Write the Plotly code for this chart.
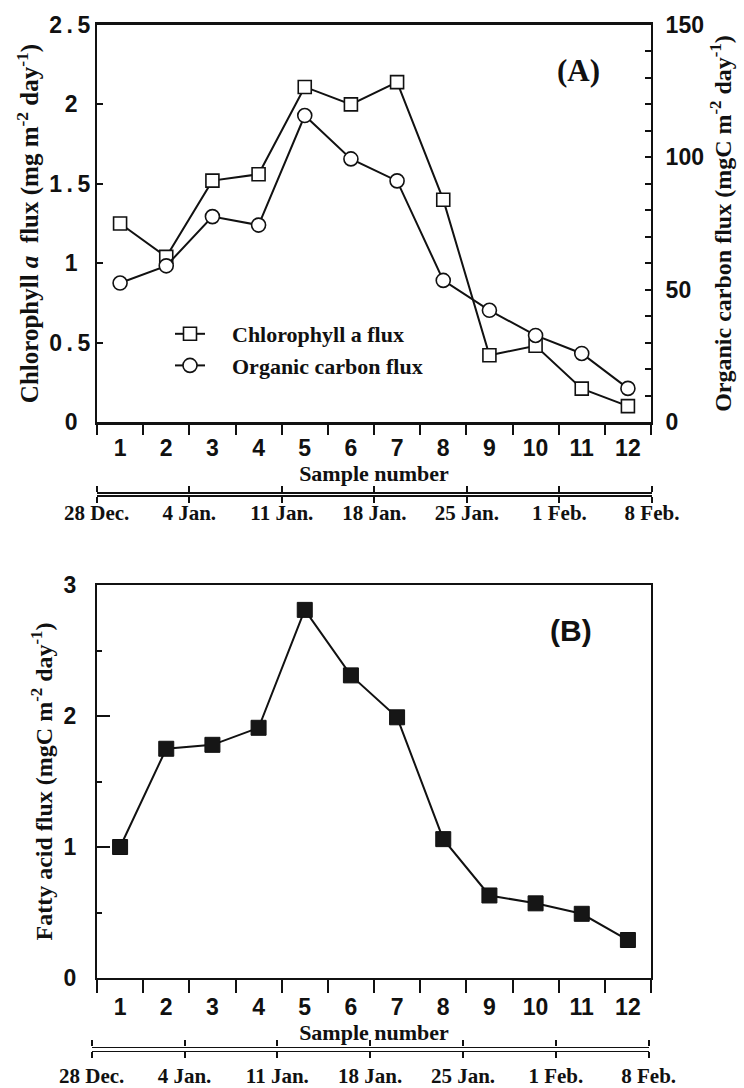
import plotly.graph_objects as go

# ---------------- data ----------------
samples = ["1", "2", "3", "4", "5", "6", "7", "8", "9", "10", "11", "12"]
chl_flux = [1.25, 1.04, 1.52, 1.56, 2.11, 2.00, 2.14, 1.40, 0.42, 0.48, 0.21, 0.10]   # mg m-2 day-1
oc_flux = [52.5, 59.0, 77.6, 74.4, 115.8, 99.4, 91.1, 53.5, 42.2, 32.7, 25.9, 12.7]   # mgC m-2 day-1
fa_flux = [1.00, 1.75, 1.78, 1.91, 2.81, 2.31, 1.99, 1.06, 0.63, 0.57, 0.49, 0.29]    # mgC m-2 day-1
date_days = [0, 7, 14, 21, 28, 35, 42]
date_labels = ["28 Dec.", "4 Jan.", "11 Jan.", "18 Jan.", "25 Jan.", "1 Feb.", "8 Feb."]
chl_ticks = [0, 0.5, 1, 1.5, 2, 2.5]
chl_ticktext = ["0\u00a0\u00a0", "0\u2009.\u20095", "1\u00a0\u00a0", "1\u2009.\u20095", "2\u00a0\u00a0", "2\u2009.\u20095"]

# ---------------- layout helpers (pixel -> paper) ----------------
W, H = 744, 1088
def px(x):
    return x / W
def py(y):
    return 1 - y / H

NB = "\u00a0"
BLACK = "#111111"
tick_font = dict(family="Liberation Sans", size=23, color=BLACK, weight="bold")
serif = lambda s: dict(family="Liberation Serif", size=s, color=BLACK, weight="bold")

fig = go.Figure()

fig.add_trace(go.Scatter(
    x=samples, y=chl_flux, name=NB * 4 + "Chlorophyll a flux",
    mode="lines+markers", xaxis="x", yaxis="y",
    line=dict(color=BLACK, width=2),
    marker=dict(symbol="square", size=13, color="white", line=dict(color=BLACK, width=1.6)),
))
fig.add_trace(go.Scatter(
    x=samples, y=oc_flux, name=NB * 4 + "Organic carbon flux",
    mode="lines+markers", xaxis="x", yaxis="y2",
    line=dict(color=BLACK, width=2),
    marker=dict(symbol="circle", size=14, color="white", line=dict(color=BLACK, width=1.6)),
))
fig.add_trace(go.Scatter(
    x=samples, y=fa_flux, showlegend=False,
    mode="lines+markers", xaxis="x2", yaxis="y3",
    line=dict(color=BLACK, width=2),
    marker=dict(symbol="square", size=15, color="#161616", line=dict(color=BLACK, width=1)),
))
# invisible carriers for the date axes
for xa, ya in (("x3", "y4"), ("x4", "y5")):
    fig.add_trace(go.Scatter(x=date_days, y=[None] * len(date_days), xaxis=xa, yaxis=ya,
                             mode="markers", showlegend=False, hoverinfo="skip"))

common_x = dict(type="category", range=[-0.5, 11.5], tickson="boundaries", ticks="outside",
                tickwidth=1.6, tickcolor=BLACK, showline=True, linecolor=BLACK,
                mirror=True, showgrid=False, zeroline=False, tickfont=tick_font,
                automargin=False)

fig.update_layout(
    template="none",
    width=W, height=H,
    margin=dict(l=0, r=0, t=0, b=0),
    paper_bgcolor="white", plot_bgcolor="rgba(0,0,0,0)",
    showlegend=True,
    legend=dict(x=px(170), y=py(313), xanchor="left", yanchor="top",
                bgcolor="rgba(0,0,0,0)", font=serif(22), tracegroupgap=0),
    xaxis=dict(common_x, domain=[px(97), px(651)], anchor="y", ticklen=10, linewidth=2.5,
               ticklabelstandoff=4,
               title=dict(text="Sample number", font=serif(22), standoff=0)),
    yaxis=dict(domain=[py(422), py(25)], anchor="x", range=[0, 2.5],
               tickmode="array", tickvals=chl_ticks, ticktext=chl_ticktext,
               ticks="inside", ticklen=6, tickwidth=1.5, tickcolor=BLACK,
               showline=True, linewidth=2, linecolor=BLACK, showgrid=False, zeroline=False,
               tickfont=tick_font, automargin=False,
               title=dict(text="Chlorophyll <i>a</i>  flux (mg m<sup>-2</sup> day<sup>-1</sup>)",
                          font=serif(25), standoff=3)),
    yaxis2=dict(overlaying="y", side="right", anchor="x", range=[0, 150],
                tickmode="linear", tick0=0, dtick=50,
                ticks="inside", ticklen=6, tickwidth=1.5, tickcolor=BLACK,
                minor=dict(tick0=0, dtick=10, ticks="inside", ticklen=6, tickwidth=1.5, tickcolor=BLACK),
                showline=True, linewidth=2, linecolor=BLACK, showgrid=False, zeroline=False,
                tickfont=tick_font, automargin=False, ticklabelstandoff=8,
                title=dict(text="Organic carbon flux (mgC m<sup>-2</sup> day<sup>-1</sup>)",
                           font=serif(24), standoff=11)),
    xaxis2=dict(common_x, domain=[px(97), px(651)], anchor="y3", ticklen=13, linewidth=2,
                ticklabelstandoff=7,
                title=dict(text="Sample number", font=serif(22), standoff=0)),
    yaxis3=dict(domain=[py(978), py(585)], anchor="x2", range=[0, 3],
                tickmode="linear", tick0=0, dtick=1,
                ticks="inside", ticklen=13, tickwidth=1.5, tickcolor=BLACK,
                minor=dict(tick0=0, dtick=0.5, ticks="inside", ticklen=5, tickwidth=1.5, tickcolor=BLACK),
                showline=True, linewidth=2, linecolor=BLACK, mirror=True,
                showgrid=False, zeroline=False, tickfont=tick_font, automargin=False,
                ticklabelstandoff=14,
                title=dict(text="Fatty acid flux (mgC m<sup>-2</sup> day<sup>-1</sup>)",
                           font=serif(24), standoff=4)),
    xaxis3=dict(domain=[px(96.7), px(652)], anchor="y4", range=[0, 42],
                tickmode="array", tickvals=date_days, ticktext=date_labels,
                ticks="outside", ticklen=6, tickwidth=2, tickcolor=BLACK,
                showline=True, linewidth=2, linecolor=BLACK, mirror="allticks",
                showgrid=False, zeroline=False, tickfont=serif(21), automargin=False,
                ticklabelstandoff=-8),
    yaxis4=dict(domain=[py(494.6), py(494)], anchor="x3", range=[0, 1], visible=False),
    xaxis4=dict(domain=[px(91.7), px(648.7)], anchor="y5", range=[0, 42],
                tickmode="array", tickvals=date_days, ticktext=date_labels,
                ticks="outside", ticklen=6, tickwidth=1.6, tickcolor=BLACK,
                showline=True, linewidth=1.2, linecolor=BLACK, mirror="allticks",
                showgrid=False, zeroline=False, tickfont=serif(21), automargin=False),
    yaxis5=dict(domain=[py(1051), py(1047.5)], anchor="x4", range=[0, 1], visible=False),
    annotations=[
        dict(text="(A)", x=px(578), y=py(70), xref="paper", yref="paper",
             xanchor="center", yanchor="middle", showarrow=False, font=serif(31)),
        dict(text="(B)", x=px(571), y=py(630), xref="paper", yref="paper",
             xanchor="center", yanchor="middle", showarrow=False,
             font=dict(family="Liberation Sans", size=30, color=BLACK, weight="bold")),
    ],
)

fig.write_html("out.html", config={"displayModeBar": False},
               post_script="document.body.style.margin='0px';")
